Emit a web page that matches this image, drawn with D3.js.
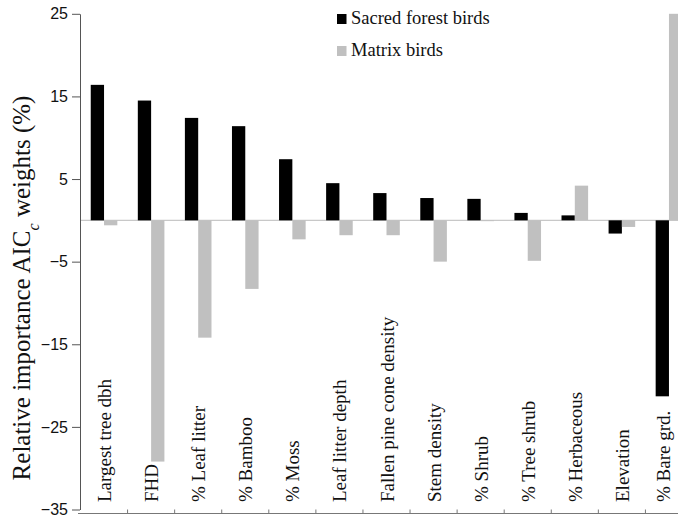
<!DOCTYPE html>
<html>
<head>
<meta charset="utf-8">
<script src="https://cdn.jsdelivr.net/npm/d3@7/dist/d3.min.js"></script>
<style>
  html, body { margin: 0; padding: 0; background: #fff; }
  svg { display: block; }
  .serif { font-family: "Liberation Serif", "DejaVu Serif", "Times New Roman", serif; }
  .sans { font-family: "Liberation Sans", Arial, sans-serif; }
</style>
</head>
<body>
<svg id="chart" width="678" height="521"></svg>
<script>
// Habitat variables, ordered by importance for sacred forest birds
const categories = [
  "Largest tree dbh", "FHD", "% Leaf litter", "% Bamboo", "% Moss",
  "Leaf litter depth", "Fallen pine cone density", "Stem density",
  "% Shrub", "% Tree shrub", "% Herbaceous", "Elevation", "% Bare grd."
];
// Relative importance of AICc weights (%)
const sacredForest = [16.4, 14.5, 12.4, 11.4, 7.4, 4.5, 3.3, 2.7, 2.6, 0.9, 0.6, -1.6, -21.3];
const matrix = [-0.6, -29.2, -14.2, -8.3, -2.3, -1.8, -1.8, -5.0, -0.1, -4.9, 4.2, -0.8, 25];
const yTicks = [25, 15, 5, -5, -15, -25, -35];
const seriesNames = ["Sacred forest birds", "Matrix birds"];
const seriesColors = ["#000000", "#c0c0c0"];

const svg = d3.select("#chart");
const W = 678;

const y = d3.scaleLinear().domain([-35, 25]).range([509.5, 13.8]);
const x = d3.scaleBand().domain(categories).range([80.5, 692.5]).paddingInner(0).paddingOuter(0);
const barW = 13.3;

// zero reference line
svg.append("line")
  .attr("x1", 80).attr("x2", W)
  .attr("y1", y(0)).attr("y2", y(0))
  .attr("stroke", "#c8c8c8").attr("stroke-width", 1.2);

// bars
const series = [sacredForest, matrix];
series.forEach((vals, s) => {
  svg.append("g").selectAll("rect")
    .data(vals)
    .join("rect")
    .attr("x", (d, i) => x(categories[i]) + x.bandwidth() / 2 + (s === 0 ? -barW : 0))
    .attr("y", d => y(Math.max(0, d)))
    .attr("width", barW)
    .attr("height", d => Math.abs(y(d) - y(0)))
    .attr("fill", seriesColors[s]);
});

// y axis
const yAxis = d3.axisLeft(y).tickValues(yTicks).tickSize(8).tickSizeOuter(0).tickPadding(4);
const gy = svg.append("g").attr("transform", "translate(80,0)").call(yAxis);
gy.attr("font-family", null);
gy.select(".domain").attr("stroke", "#555");
gy.selectAll(".tick line").attr("stroke", "#555");
gy.selectAll(".tick text")
  .attr("class", "sans").attr("font-size", 16).attr("fill", "#111");

// category axis along the bottom
const baseY = 513.5;
svg.append("line")
  .attr("x1", 78).attr("x2", W).attr("y1", baseY).attr("y2", baseY)
  .attr("stroke", "#777").attr("stroke-width", 1);
svg.append("g").selectAll("line")
  .data(categories.slice(1))
  .join("line")
  .attr("x1", d => x(d)).attr("x2", d => x(d))
  .attr("y1", baseY).attr("y2", baseY - 4)
  .attr("stroke", "#777");

// rotated category names; keep the last one inside the frame
svg.append("g").selectAll("text")
  .data(categories)
  .join("text")
  .attr("class", "serif")
  .attr("transform", d => `translate(${Math.min(x(d) + x.bandwidth() / 2 + 7, W - 8)},502) rotate(-90)`)
  .attr("text-anchor", "start")
  .attr("font-size", 19).attr("fill", "#111")
  .text(d => d);

// y axis title with subscript c
const title = svg.append("text")
  .attr("class", "serif")
  .attr("transform", "translate(30,288) rotate(-90)")
  .attr("text-anchor", "middle")
  .attr("font-size", 25).attr("fill", "#111");
title.append("tspan").text("Relative importance AIC");
title.append("tspan").attr("baseline-shift", "sub").attr("font-size", 16).attr("font-style", "italic").text("c");
title.append("tspan").text(" weights (%)");

// legend
const legend = svg.append("g");
seriesNames.forEach((name, i) => {
  const ly = 24 + i * 32;
  legend.append("rect")
    .attr("x", 337).attr("y", ly - 10).attr("width", 9.5).attr("height", 10)
    .attr("fill", seriesColors[i]);
  legend.append("text")
    .attr("class", "serif")
    .attr("x", 351).attr("y", ly)
    .attr("font-size", 18.5).attr("fill", "#111")
    .text(name);
});
</script>
</body>
</html>
